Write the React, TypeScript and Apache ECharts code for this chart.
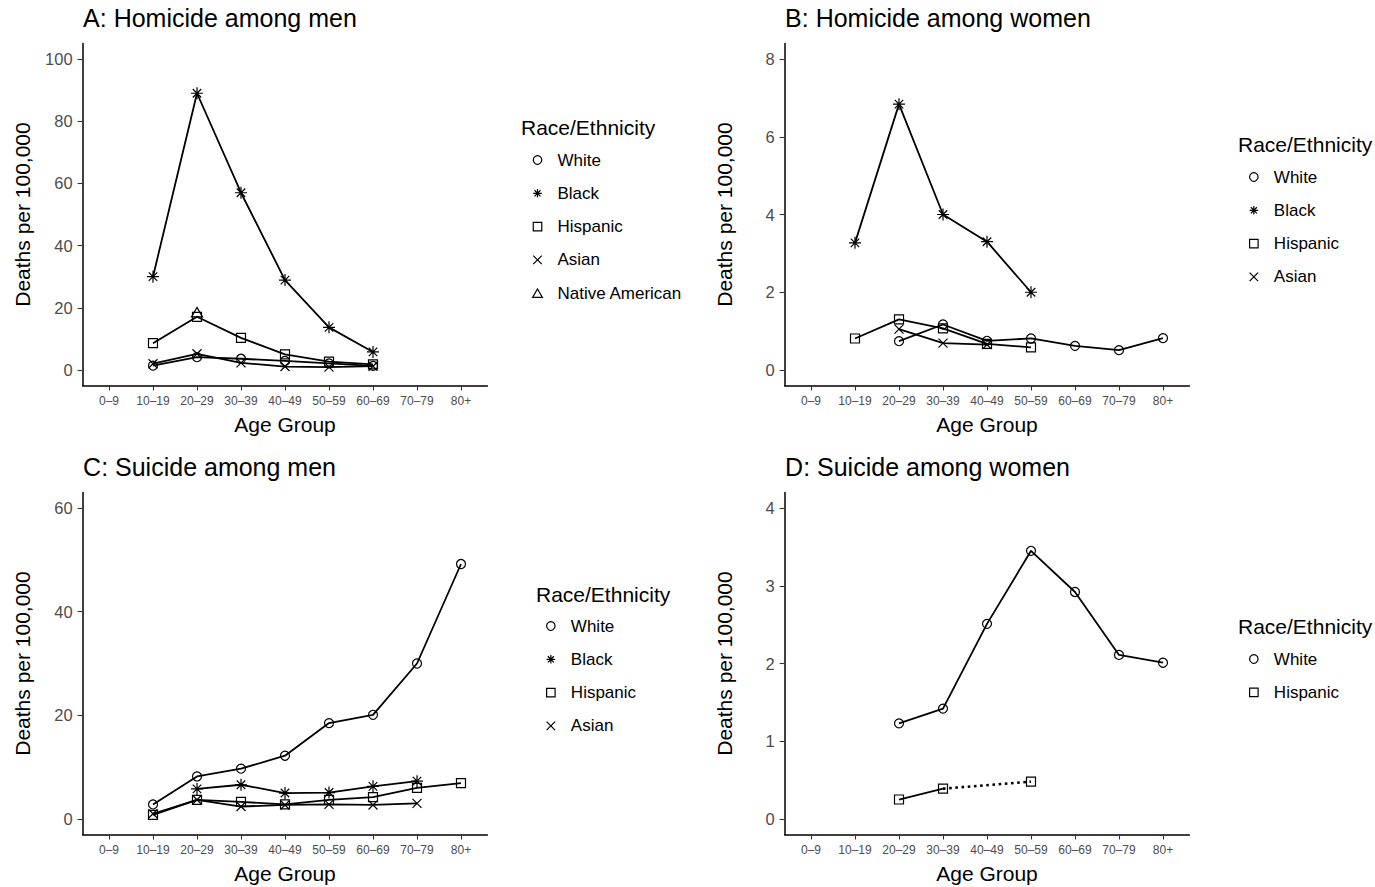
import React, { useEffect, useRef } from "react";
import * as echarts from "echarts";

// Age bands shown on every x axis
const AGE_GROUPS = ["0–9", "10–19", "20–29", "30–39", "40–49", "50–59", "60–69", "70–79", "80+"];
const AGE_TICKS = [0, 1, 2, 3, 4, 5, 6, 7, 8];

const PANEL_TITLES = [
  "A: Homicide among men",
  "B: Homicide among women",
  "C: Suicide among men",
  "D: Suicide among women",
];
const LEGEND_TITLE = "Race/Ethnicity";
const Y_TITLE = "Deaths per 100,000";
const X_TITLE = "Age Group";

// y ticks per panel
const Y_TICKS_A = [0, 20, 40, 60, 80, 100];
const Y_TICKS_B = [0, 2, 4, 6, 8];
const Y_TICKS_C = [0, 20, 40, 60];
const Y_TICKS_D = [0, 1, 2, 3, 4];

// A: homicide among men (deaths per 100,000 by age group)
const homMenWhite = [null, 1.4, 4.1, 3.6, 2.9, 2.1, 1.3, null, null];
const homMenBlack = [null, 30.0, 89.0, 57.0, 28.9, 13.7, 5.8, null, null];
const homMenHispanic = [null, 8.6, 17.1, 10.3, 5.0, 2.7, 1.8, null, null];
const homMenAsian = [null, 2.0, 5.2, 2.3, 1.1, 0.9, 1.2, null, null];
const homMenNative = [null, null, 18.6, null, null, null, null, null, null];

// B: homicide among women
const homWomenWhite = [null, null, 0.74, 1.17, 0.75, 0.81, 0.62, 0.51, 0.82];
const homWomenBlack = [null, 3.27, 6.84, 4.0, 3.3, 2.0, null, null, null];
const homWomenHispanic = [null, 0.81, 1.3, 1.07, 0.67, 0.58, null, null, null];
const homWomenAsian = [null, null, 1.05, 0.69, 0.65, null, null, null, null];

// C: suicide among men
const suiMenWhite = [null, 2.8, 8.2, 9.7, 12.2, 18.5, 20.1, 30.0, 49.2];
const suiMenBlack = [null, null, 5.8, 6.6, 5.0, 5.1, 6.3, 7.3, null];
const suiMenHispanic = [null, 0.8, 3.7, 3.3, 2.8, 3.7, 4.2, 6.0, 6.9];
const suiMenAsian = [null, 1.0, 3.7, 2.4, 2.7, 2.8, 2.7, 3.0, null];

// D: suicide among women
const suiWomenWhite = [null, null, 1.23, 1.42, 2.51, 3.45, 2.92, 2.11, 2.01];
const suiWomenHispanic = [null, null, 0.25, 0.39, null, 0.48, null, null, null];

const FONT = '"Liberation Sans", Arial, Helvetica, sans-serif';
const CLEAR = "rgba(0,0,0,0)";

// Hollow marker outlines (ggplot-style shapes 1, 8, 0, 4, 2)
const SHAPES: Record<string, { symbol: string; size: number }> = {
  White: { symbol: "circle", size: 9 },
  Black: {
    symbol: "path://M5 0L5 10M0 5L10 5M1.46 1.46L8.54 8.54M1.46 8.54L8.54 1.46",
    size: 12,
  },
  Hispanic: { symbol: "path://M0 0L10 0L10 10L0 10Z", size: 9 },
  Asian: { symbol: "path://M0 0L10 10M0 10L10 0", size: 9 },
  "Native American": { symbol: "path://M5 0L10 8.66L0 8.66Z", size: 11 },
};

type Vals = (number | null)[];

// Split a series into runs of consecutive observed points (solid) and
// the bridges across missing age groups (dotted).
function buildSeries(name: string, values: Vals, axis: number) {
  const runs: [number, number][][] = [];
  let cur: [number, number][] = [];
  values.forEach((v, i) => {
    if (v == null) {
      if (cur.length) runs.push(cur);
      cur = [];
    } else {
      cur.push([i, v]);
    }
  });
  if (cur.length) runs.push(cur);

  const shape = SHAPES[name];
  const out: any[] = [];
  runs.forEach((run, k) => {
    out.push({
      type: "line",
      name,
      xAxisIndex: axis,
      yAxisIndex: axis,
      data: run,
      symbol: shape.symbol,
      symbolSize: shape.size,
      symbolKeepAspect: true,
      showSymbol: true,
      silent: true,
      z: 3,
      itemStyle: { color: CLEAR, borderColor: "#000", borderWidth: 1.2 },
      lineStyle: { color: "#000", width: 1.8 },
    });
    if (k < runs.length - 1) {
      const last = run[run.length - 1];
      const next = runs[k + 1][0];
      out.push({
        type: "line",
        name,
        xAxisIndex: axis,
        yAxisIndex: axis,
        data: [last, next],
        showSymbol: false,
        silent: true,
        z: 2,
        lineStyle: { color: "#000", width: 2.6, type: [2.6, 3.6] },
      });
    }
  });
  return out;
}

const PANELS = [
  {
    left: 82.6,
    top: 43.5,
    yMin: -5,
    yMax: 105,
    yTicks: Y_TICKS_A,
    legendLeft: 532,
    legendTop: 150,
    legendTitleLeft: 521,
    legendTitleTop: 117,
    series: [
      ["White", homMenWhite],
      ["Black", homMenBlack],
      ["Hispanic", homMenHispanic],
      ["Asian", homMenAsian],
      ["Native American", homMenNative],
    ] as [string, Vals][],
  },
  {
    left: 784.6,
    top: 43.5,
    yMin: -0.4,
    yMax: 8.4,
    yTicks: Y_TICKS_B,
    legendLeft: 1249,
    legendTop: 167,
    legendTitleLeft: 1238,
    legendTitleTop: 134,
    series: [
      ["White", homWomenWhite],
      ["Black", homWomenBlack],
      ["Hispanic", homWomenHispanic],
      ["Asian", homWomenAsian],
    ] as [string, Vals][],
  },
  {
    left: 82.6,
    top: 492.5,
    yMin: -3,
    yMax: 63,
    yTicks: Y_TICKS_C,
    legendLeft: 546,
    legendTop: 616,
    legendTitleLeft: 536,
    legendTitleTop: 584,
    series: [
      ["White", suiMenWhite],
      ["Black", suiMenBlack],
      ["Hispanic", suiMenHispanic],
      ["Asian", suiMenAsian],
    ] as [string, Vals][],
  },
  {
    left: 784.6,
    top: 492.5,
    yMin: -0.2,
    yMax: 4.2,
    yTicks: Y_TICKS_D,
    legendLeft: 1249,
    legendTop: 649,
    legendTitleLeft: 1238,
    legendTitleTop: 616,
    series: [
      ["White", suiWomenWhite],
      ["Hispanic", suiWomenHispanic],
    ] as [string, Vals][],
  },
];

const PLOT_W = 404.8;
const PLOT_H = 342;

function buildOption() {
  const grid: any[] = [];
  const xAxis: any[] = [];
  const yAxis: any[] = [];
  const title: any[] = [];
  const legend: any[] = [];
  const series: any[] = [];

  PANELS.forEach((p, i) => {
    grid.push({ left: p.left, top: p.top, width: PLOT_W, height: PLOT_H, containLabel: false });

    xAxis.push({
      type: "value",
      gridIndex: i,
      min: -0.6,
      max: 8.6,
      name: X_TITLE,
      nameLocation: "middle",
      nameGap: 28,
      nameTextStyle: { fontSize: 21, color: "#000", fontFamily: FONT },
      axisLine: { show: true, onZero: false, lineStyle: { color: "#000", width: 1.5 } },
      axisTick: { show: true, length: 5, customValues: AGE_TICKS, lineStyle: { color: "#333", width: 1.1 } },
      axisLabel: {
        customValues: AGE_TICKS,
        formatter: (v: number) => AGE_GROUPS[Math.round(v)] ?? "",
        fontSize: 12,
        color: "#4d4d4d",
        fontFamily: FONT,
        margin: 9,
      },
      splitLine: { show: false },
    });

    yAxis.push({
      type: "value",
      gridIndex: i,
      min: p.yMin,
      max: p.yMax,
      name: Y_TITLE,
      nameLocation: "middle",
      nameGap: 50,
      nameTextStyle: { fontSize: 21, color: "#000", fontFamily: FONT },
      axisLine: { show: true, onZero: false, lineStyle: { color: "#000", width: 1.5 } },
      axisTick: { show: true, length: 5, customValues: p.yTicks, lineStyle: { color: "#333", width: 1.1 } },
      axisLabel: {
        customValues: p.yTicks,
        fontSize: 16.5,
        color: "#4d4d4d",
        fontFamily: FONT,
        margin: 10,
      },
      splitLine: { show: false },
    });

    title.push({
      text: PANEL_TITLES[i],
      left: p.left + 0.5,
      top: p.top - 38,
      padding: 0,
      textStyle: { fontSize: 25, fontWeight: "normal", color: "#000", fontFamily: FONT },
    });
    title.push({
      text: LEGEND_TITLE,
      left: p.legendTitleLeft,
      top: p.legendTitleTop,
      padding: 0,
      textStyle: { fontSize: 21, fontWeight: "normal", color: "#000", fontFamily: FONT },
    });

    legend.push({
      orient: "vertical",
      left: p.legendLeft,
      top: p.legendTop,
      padding: 0,
      itemWidth: 30,
      itemHeight: 8.5,
      itemGap: 13.3,
      symbolKeepAspect: true,
      selectedMode: false,
      textStyle: { fontSize: 17, color: "#000", fontFamily: FONT, lineHeight: 20 },
      data: p.series.map(([name]) => ({
        name,
        icon: SHAPES[name].symbol,
        itemStyle: { color: CLEAR, borderColor: "#000", borderWidth: 1.2 },
      })),
    });

    p.series.forEach(([name, vals]) => {
      series.push(...buildSeries(name, vals, i));
    });
  });

  return {
    animation: false,
    backgroundColor: "#fff",
    textStyle: { fontFamily: FONT },
    grid,
    xAxis,
    yAxis,
    title,
    legend,
    series,
  };
}

export default function App() {
  const ref = useRef<HTMLDivElement>(null);

  useEffect(() => {
    if (!ref.current) return;
    const chart = echarts.init(ref.current, undefined, { renderer: "svg" });
    chart.setOption(buildOption());
    return () => chart.dispose();
  }, []);

  return (
    <div
      ref={ref}
      style={{ position: "fixed", left: 0, top: 0, width: 1375, height: 887, background: "#fff" }}
    />
  );
}
